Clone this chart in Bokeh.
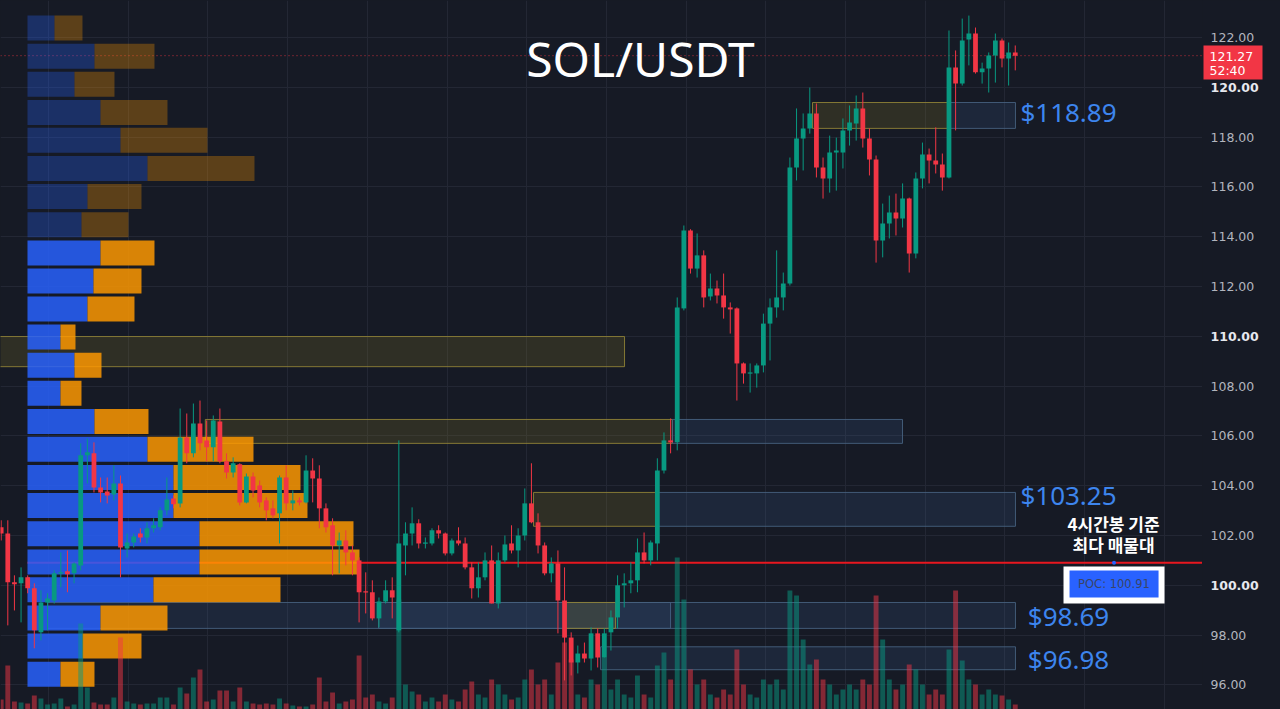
from bokeh.plotting import figure
from bokeh.layouts import row
from bokeh.models import Range1d, FixedTicker, Label, ColumnDataSource
from bokeh.embed import file_html
from bokeh.resources import INLINE
from bokeh.core.properties import value

# ---------------- data (4h candles, SOL/USDT) ----------------
opens = [102.33, 102.08, 100.12, 100.08, 100.32, 99.88, 98.11, 99.31, 99.39, 100.48,
         100.56, 100.48, 100.80, 105.22, 105.30, 103.93, 103.77, 103.65, 104.09, 101.48,
         101.72, 102.08, 101.92, 102.29, 102.33, 103.01, 103.49, 103.29, 105.94, 105.30,
         106.50, 105.82, 105.54, 106.58, 104.98, 104.53, 104.86, 103.33, 104.37, 104.01,
         103.41, 103.09, 102.89, 104.33, 103.29, 103.41, 103.33, 104.61, 104.29, 103.09,
         102.41, 101.60, 101.80, 101.32, 101.00, 99.76, 99.72, 98.67, 99.35, 99.80,
         98.19, 101.60, 102.08, 102.49, 101.68, 101.68, 102.21, 102.08, 101.28, 101.80,
         101.68, 100.72, 99.88, 100.32, 101.00, 99.27, 101.00, 101.68, 101.40, 102.00,
         103.29, 102.53, 101.60, 100.48, 100.88, 99.39, 97.90, 96.90, 97.26, 97.06,
         98.07, 97.10, 98.11, 98.71, 100.00, 100.08, 100.20, 101.32, 101.00, 101.68,
         104.61, 105.82, 105.74, 111.12, 114.25, 112.72, 113.25, 111.60, 111.92, 111.64,
         111.16, 111.12, 108.91, 108.51, 108.51, 108.83, 110.51, 111.16, 111.56, 112.12,
         116.78, 117.94, 118.35, 118.95, 116.78, 116.34, 117.38, 117.38, 118.27, 118.55,
         119.15, 117.94, 117.10, 113.85, 114.53, 114.97, 114.73, 115.53, 113.33, 116.34,
         117.30, 117.06, 116.90, 116.38, 120.80, 120.15, 121.92, 122.16, 120.60, 120.76,
         121.28, 121.88, 121.16, 121.40]
highs = [102.61, 102.61, 100.40, 100.72, 100.40, 100.08, 99.80, 99.68, 100.60, 101.32,
         101.40, 100.92, 105.70, 105.90, 105.74, 104.33, 104.33, 104.82, 104.41, 102.08,
         102.08, 102.29, 102.53, 102.69, 103.13, 104.33, 103.61, 107.10, 106.90, 107.30,
         107.42, 106.62, 106.82, 107.10, 105.30, 105.14, 104.90, 104.49, 104.53, 104.21,
         103.53, 103.41, 104.41, 104.82, 103.81, 103.53, 105.22, 105.10, 104.82, 103.29,
         102.69, 102.12, 102.21, 101.60, 101.12, 100.52, 100.20, 99.51, 100.20, 100.32,
         105.82, 102.53, 103.13, 102.65, 101.92, 102.29, 102.41, 102.12, 101.88, 102.33,
         101.92, 100.92, 100.92, 101.32, 101.60, 101.32, 102.00, 102.41, 102.29, 103.89,
         104.90, 102.89, 101.72, 101.12, 101.40, 100.72, 98.11, 97.58, 97.70, 98.31,
         98.27, 98.27, 98.99, 100.40, 100.48, 100.92, 101.88, 102.12, 101.80, 105.10,
         106.14, 106.70, 111.56, 114.45, 114.30, 114.13, 113.45, 112.52, 112.24, 112.52,
         111.36, 111.16, 108.95, 108.91, 108.91, 110.91, 111.52, 113.45, 112.56, 117.18,
         119.15, 118.95, 119.99, 119.35, 117.18, 118.06, 117.98, 118.75, 119.27, 119.67,
         119.79, 118.35, 117.26, 115.33, 115.65, 115.73, 116.14, 115.57, 116.58, 117.78,
         117.54, 118.39, 117.34, 122.28, 121.48, 122.76, 122.88, 122.40, 120.99, 121.40,
         122.16, 121.96, 121.80, 121.68]
lows = [101.80, 98.39, 98.99, 98.51, 99.68, 97.47, 97.79, 98.19, 99.27, 99.92,
        99.72, 100.08, 100.60, 104.09, 103.73, 103.33, 103.29, 103.41, 100.32, 101.12,
        101.52, 101.72, 101.68, 102.12, 102.21, 102.81, 103.09, 103.13, 104.90, 105.14,
        105.42, 104.98, 104.98, 104.90, 104.29, 104.33, 103.21, 103.29, 103.53, 103.13,
        102.61, 102.69, 101.68, 103.01, 103.01, 103.21, 103.29, 103.33, 102.29, 102.12,
        100.40, 100.48, 100.80, 100.40, 98.51, 98.87, 98.59, 98.31, 99.27, 98.67,
        98.11, 100.40, 101.60, 101.48, 101.48, 101.60, 101.88, 101.20, 101.20, 101.60,
        100.64, 99.47, 99.51, 100.20, 99.27, 99.07, 100.92, 101.28, 100.72, 101.80,
        102.49, 101.28, 100.40, 100.12, 98.07, 96.18, 96.38, 96.46, 96.90, 96.58,
        96.70, 97.10, 97.38, 98.27, 99.11, 99.68, 99.72, 100.88, 100.80, 101.00,
        104.49, 105.30, 105.42, 111.04, 112.52, 112.36, 111.16, 111.44, 111.32, 110.71,
        110.11, 107.42, 108.10, 107.74, 107.94, 108.55, 109.03, 110.75, 111.04, 112.04,
        116.26, 116.66, 118.14, 116.38, 115.53, 115.77, 115.85, 116.74, 117.66, 117.86,
        117.58, 116.46, 112.96, 113.17, 113.93, 114.05, 114.37, 112.56, 113.13, 115.94,
        116.14, 116.54, 115.85, 116.34, 118.27, 120.07, 120.88, 120.55, 120.15, 119.79,
        120.19, 120.80, 120.07, 120.68]
closes = [102.08, 100.12, 100.04, 100.32, 99.88, 98.19, 99.31, 99.47, 100.48, 100.52,
          100.44, 100.88, 105.22, 105.34, 103.93, 103.73, 103.61, 104.09, 101.52, 101.72,
          101.96, 101.92, 102.29, 102.41, 103.01, 103.45, 103.25, 105.94, 105.30, 106.50,
          105.70, 105.54, 106.62, 104.98, 104.53, 104.90, 103.33, 104.37, 103.81, 103.33,
          103.01, 102.81, 104.33, 103.29, 103.41, 103.33, 104.61, 104.29, 103.09, 102.33,
          101.60, 101.80, 101.32, 101.00, 99.72, 99.72, 98.67, 99.35, 99.80, 99.51,
          101.68, 102.08, 102.49, 101.68, 101.72, 102.21, 102.08, 101.28, 101.80, 101.68,
          100.72, 99.88, 100.32, 101.00, 99.27, 101.00, 101.64, 101.40, 102.00, 103.29,
          102.53, 101.60, 100.48, 100.88, 99.39, 97.90, 96.90, 97.26, 97.06, 98.07,
          97.10, 98.07, 98.71, 100.00, 100.08, 100.20, 101.32, 101.00, 101.72, 104.61,
          105.82, 105.74, 111.16, 114.25, 112.72, 113.25, 111.56, 111.92, 111.64, 111.16,
          111.08, 108.91, 108.51, 108.55, 108.83, 110.51, 111.16, 111.56, 112.12, 116.78,
          117.94, 118.35, 118.95, 116.78, 116.34, 117.38, 117.46, 118.27, 118.59, 119.15,
          117.94, 117.10, 113.85, 114.53, 114.97, 114.73, 115.53, 113.33, 116.34, 117.30,
          117.06, 116.90, 116.38, 120.80, 120.15, 121.88, 122.16, 120.60, 120.76, 121.28,
          121.88, 121.16, 121.40, 121.27]
volumes = [10, 44, 8, 7, 6, 14, 11, 5, 6, 11,
           3, 5, 86, 22, 7, 5, 5, 12, 72, 8,
           6, 5, 6, 6, 12, 12, 5, 22, 16, 32,
           40, 8, 10, 19, 19, 8, 22, 8, 6, 5,
           6, 5, 11, 6, 4, 3, 3, 5, 32, 8,
           17, 6, 8, 10, 54, 12, 15, 8, 6, 12,
           110, 25, 18, 15, 8, 12, 8, 15, 10, 8,
           20, 28, 15, 12, 30, 25, 15, 10, 12, 30,
           40, 25, 30, 15, 47, 67, 50, 15, 12, 30,
           25, 52, 20, 30, 15, 12, 34, 15, 12, 44,
           57, 30, 152, 110, 40, 25, 30, 15, 12, 20,
           15, 60, 25, 15, 12, 30, 25, 30, 20, 119,
           114, 70, 45, 50, 30, 25, 15, 20, 25, 20,
           30, 25, 114, 70, 30, 20, 25, 45, 40, 25,
           15, 20, 15, 60, 119, 49, 30, 25, 15, 20,
           15, 14, 10, 5]

# visible-range volume profile (rows of price)
profile_price = [122.38, 121.25, 120.12, 118.99, 117.87, 116.74, 115.61, 114.48, 113.35, 112.22,
                 111.10, 109.97, 108.84, 107.71, 106.58, 105.46, 104.33, 103.20, 102.07, 100.94,
                 99.82, 98.69, 97.56, 96.43]
profile_up = [27, 67, 47, 73, 93, 120, 60, 54, 73, 66, 60, 33,
              47, 33, 67, 120, 146, 146, 172, 172, 126, 73, 55, 33]
profile_down = [28, 60, 40, 67, 87, 107, 54, 47, 54, 48, 47, 15,
                27, 21, 54, 106, 127, 134, 154, 160, 127, 67, 59, 34]
in_value_area = [False, False, False, False, False, False, False, False, True, True, True, True,
                 True, True, True, True, True, True, True, True, True, True, True, True]

poc_price = 100.91
last_price = 121.27
countdown = "52:40"
price_ticks = [96, 98, 100, 102, 104, 106, 108, 110, 112, 114, 116, 118, 120, 122]
bold_ticks = [100, 110, 120]

zone_labels = ["$118.89", "$103.25", "$98.69", "$96.98"]
zone_label_y = [118.99, 103.61, 98.75, 97.06]

# zones: (x_left, x_right, top, bottom, kind)
zones = [(-1.0, 94.05, 109.99, 108.78, "y"),
         (30.8, 101.29, 106.66, 105.70, "y"),
         (101.29, 135.99, 106.66, 105.70, "b"),
         (80.32, 98.72, 103.73, 102.37, "y"),
         (98.72, 153.03, 103.73, 102.37, "b"),
         (122.41, 143.23, 119.39, 118.35, "y"),
         (143.23, 153.03, 119.39, 118.35, "b"),
         (7.0, 100.99, 99.31, 98.27, "b"),
         (56.93, 153.03, 99.31, 98.27, "b"),
         (85.14, 92.69, 99.31, 98.27, "y"),
         (90.42, 153.03, 97.53, 96.61, "b")]

# ---------------- style / layout ----------------
BG = "#161a25"
GRID = "#232734"
UP = "#089981"
DN = "#f23645"
X0, X1 = -0.101, 181.25
Y0, Y1 = 95.012, 123.486
PX_PER_BAR = 6.628
PROFILE_LEFT = 3.97

yr = Range1d(Y0, Y1)

p = figure(width=1202, height=709, x_range=Range1d(X0, X1), y_range=yr,
           output_backend="svg", toolbar_location=None,
           background_fill_color=BG, border_fill_color=BG, min_border=0)
p.outline_line_color = None
p.xaxis.visible = False
p.yaxis.visible = False
p.xgrid.ticker = FixedTicker(ticks=[7.14, 19.17, 31.19, 43.22, 55.24, 67.27, 79.29, 91.32,
                                    103.34, 115.37, 127.39, 139.42, 151.44, 163.47, 175.49])
p.ygrid.ticker = FixedTicker(ticks=price_ticks)
p.xgrid.grid_line_color = GRID
p.ygrid.grid_line_color = GRID

# zones (boxes)
for (xl, xr, top, bot, kind) in zones:
    if kind == "y":
        p.quad(left=xl, right=xr, top=top, bottom=bot, fill_color="#8a7d2a", fill_alpha=0.22,
               line_color="#8f8236", line_alpha=0.9, line_width=1)
    else:
        p.quad(left=xl, right=xr, top=top, bottom=bot, fill_color="#3a5f8f", fill_alpha=0.2,
               line_color="#46607e", line_alpha=0.9, line_width=1)

# current price dotted line
p.segment(x0=X0, x1=X1, y0=last_price, y1=last_price, line_color=DN, line_alpha=0.8,
          line_width=1, line_dash="1 3")

# POC line
p.segment(x0=PROFILE_LEFT, x1=X1, y0=poc_price, y1=poc_price, line_color="#e8171f", line_width=2)

# volume profile
half = 0.502
for k in range(len(profile_price)):
    c = profile_price[k]
    up_w = profile_up[k] / PX_PER_BAR
    dn_w = profile_down[k] / PX_PER_BAR
    a = 0.84 if in_value_area[k] else 0.3
    p.quad(left=PROFILE_LEFT, right=PROFILE_LEFT + up_w, top=c + half, bottom=c - half,
           fill_color="#2962ff", fill_alpha=a, line_color=None)
    p.quad(left=PROFILE_LEFT + up_w, right=PROFILE_LEFT + up_w + dn_w, top=c + half,
           bottom=c - half, fill_color="#ff9800", fill_alpha=a, line_color=None)

# volume bars
idx = list(range(len(opens)))
is_up = [c >= o for o, c in zip(opens, closes)]
vcol = [UP if u else DN for u in is_up]
p.extra_y_ranges = {"vol": Range1d(0, 709)}
p.vbar(x=idx, top=volumes, bottom=0, width=0.74, fill_color=vcol, fill_alpha=0.5,
       line_color=None, y_range_name="vol")

# candles
body_top = [max(o, c) for o, c in zip(opens, closes)]
body_bot = [min(o, c) if abs(o - c) >= 0.05 else max(o, c) - 0.05 for o, c in zip(opens, closes)]
src = ColumnDataSource(dict(x=idx, h=highs, l=lows, t=body_top, b=body_bot, col=vcol,
                            left=[i - 0.36 for i in idx], right=[i + 0.36 for i in idx]))
p.segment(x0="x", x1="x", y0="h", y1="l", line_color="col", line_width=1, source=src)
p.quad(left="left", right="right", top="t", bottom="b", fill_color="col", line_color=None,
       source=src)

# title
p.add_layout(Label(x=96.46, y=121.16, text="SOL/USDT", text_font="Noto Sans",
                   text_font_size="48px", text_color="#ffffff", text_align="center",
                   text_baseline="middle"))

# zone price labels
for t, y in zip(zone_labels, zone_label_y):
    p.add_layout(Label(x=161.03, y=y, text=t, text_font="Noto Sans", text_font_size="26px",
                       text_color="#3d85ee", text_align="center", text_baseline="middle"))

# Korean annotation
p.add_layout(Label(x=167.83, y=102.48, text="4시간봉 기준", text_font="Noto Sans CJK KR",
                   text_font_size="17px", text_font_style="bold", text_color="#ffffff",
                   text_align="center", text_baseline="middle"))
p.add_layout(Label(x=167.83, y=101.62, text="최다 매물대", text_font="Noto Sans CJK KR",
                   text_font_size="17px", text_font_style="bold", text_color="#ffffff",
                   text_align="center", text_baseline="middle"))

# POC badge
p.quad(left=160.28, right=175.52, top=100.75, bottom=99.27, fill_color="#ffffff", line_color=None)
p.quad(left=161.19, right=174.62, top=100.59, bottom=99.51, fill_color="#2962ff", line_color=None)
p.scatter(x=[167.9], y=[poc_price], size=4, fill_color="#2962ff", line_color=None)
p.add_layout(Label(x=167.9, y=100.06, text=f"POC: {poc_price:.2f}", text_font="DejaVu Sans",
                   text_font_size="11.5px", text_color="#3a4566", text_align="center",
                   text_baseline="middle"))

# ---------------- price scale (right) ----------------
ps = figure(width=78, height=709, x_range=Range1d(1202, 1280), y_range=yr,
            output_backend="svg", toolbar_location=None,
            background_fill_color=BG, border_fill_color=BG, min_border=0)
ps.outline_line_color = None
ps.xaxis.visible = False
ps.yaxis.visible = False
ps.xgrid.visible = False
ps.ygrid.visible = False

norm_ticks = [t for t in price_ticks if t not in bold_ticks]
ps.text(x=[1210] * len(norm_ticks), y=norm_ticks, text=[f"{t:.2f}" for t in norm_ticks],
        text_font=value("DejaVu Sans"), text_font_size="12.5px", text_color="#b2b5be",
        text_align="left", text_baseline="middle")
ps.text(x=[1210] * len(bold_ticks), y=bold_ticks, text=[f"{t:.2f}" for t in bold_ticks],
        text_font=value("DejaVu Sans"), text_font_size="12.5px", text_font_style="bold",
        text_color="#e6e8ee", text_align="left", text_baseline="middle")

# last price tag
ps.quad(left=1203, right=1262, top=121.68, bottom=120.31, fill_color=DN, line_color=None)
ps.text(x=[1209, 1209], y=[121.24, 120.66], text=[f"{last_price:.2f}", countdown],
        text_font=value("DejaVu Sans"), text_font_size="12.5px", text_color="#ffffff",
        text_align="left", text_baseline="middle")

layout = row(p, ps, spacing=0)
html = file_html(layout, INLINE, title="SOL/USDT")
html = html.replace("</head>", "<style>html,body{margin:0;padding:0;background:#161a25;overflow:hidden;}</style></head>", 1)
with open("out.html", "w") as f:
    f.write(html)
